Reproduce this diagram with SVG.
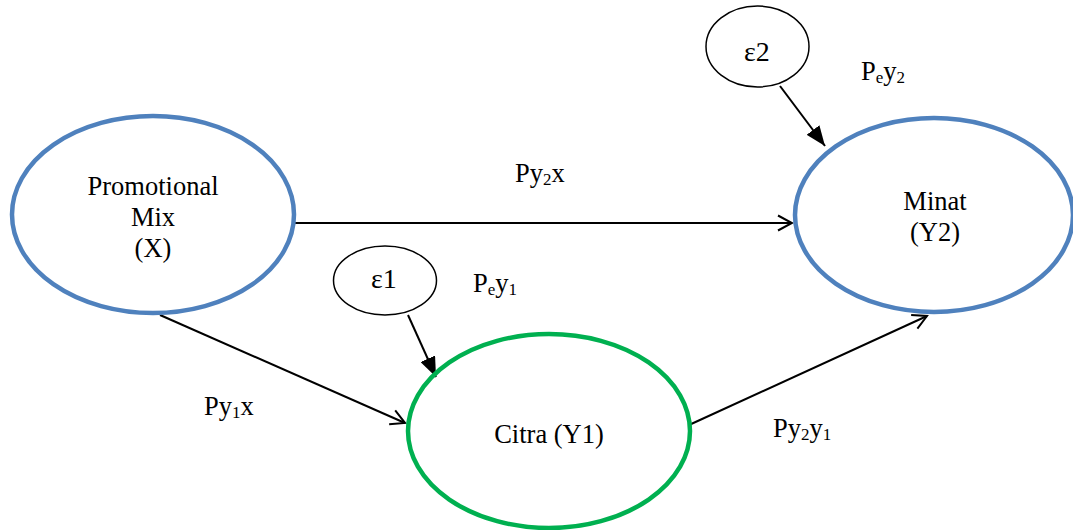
<svg xmlns="http://www.w3.org/2000/svg" width="1073" height="530" viewBox="0 0 1073 530" font-family="'Liberation Serif', 'Times New Roman', 'DejaVu Serif', serif">
<defs>
<style>
text{font-family:'Liberation Serif','Times New Roman','DejaVu Serif',serif;font-size:26.5px;fill:#000;}
.lbl{text-anchor:middle;}
.sub{font-size:17px;}
.eps{font-size:28px;}
.blue{fill:none;stroke:#4F81BD;stroke-width:4.5;}
.green{fill:none;stroke:#00B050;stroke-width:4.5;}
.err{fill:#fff;stroke:#000;stroke-width:1.5;}
.c{fill:none;stroke:#000;stroke-width:2;}
</style>
<marker id="open" markerUnits="userSpaceOnUse" viewBox="0 0 18 18" markerWidth="18" markerHeight="18" refX="16" refY="9" orient="auto">
<path d="M2,1.5 L16,9 L2,16.5" fill="none" stroke="#000" stroke-width="2"/>
</marker>
<marker id="fill" markerUnits="userSpaceOnUse" viewBox="0 0 20 16" markerWidth="20" markerHeight="16" refX="20" refY="8" orient="auto">
<path d="M0,0 L20,8 L0,16 z" fill="#000"/>
</marker>
</defs>
<rect width="1073" height="530" fill="#fff"/>
<g id="connectors">
<line class="c" x1="294" y1="223" x2="792" y2="223" marker-end="url(#open)"/>
<line class="c" x1="160" y1="315" x2="405" y2="423" marker-end="url(#open)"/>
<line class="c" x1="689" y1="425" x2="927" y2="316" marker-end="url(#open)"/>
<line class="c" x1="408" y1="315" x2="436" y2="377" marker-end="url(#fill)"/>
<line class="c" x1="780" y1="86" x2="825" y2="146" marker-end="url(#fill)"/>
</g>
<g id="node-x">
<ellipse class="blue" cx="153" cy="214.5" rx="141" ry="98.5"/>
<text class="lbl" x="153" y="195">Promotional</text>
<text class="lbl" x="153" y="226">Mix</text>
<text class="lbl" x="153" y="257">(X)</text>
</g>
<g id="node-y1">
<ellipse class="green" cx="549" cy="431" rx="141" ry="97"/>
<text class="lbl" x="549" y="443">Citra (Y1)</text>
</g>
<g id="node-y2">
<ellipse class="blue" cx="934" cy="215" rx="139" ry="97"/>
<text class="lbl" x="935" y="210">Minat</text>
<text class="lbl" x="935" y="241">(Y2)</text>
</g>
<g id="node-e1">
<ellipse class="err" cx="385" cy="280.5" rx="51.5" ry="34.5"/>
<text class="lbl eps" x="384" y="288">ε1</text>
</g>
<g id="node-e2">
<ellipse class="err" cx="757.5" cy="46.5" rx="51.5" ry="40.5"/>
<text class="lbl eps" x="757" y="61">ε2</text>
</g>
<g id="labels">
<text x="861" y="80">P<tspan class="sub" dy="3">e</tspan><tspan dy="-3">y</tspan><tspan class="sub" dy="3">2</tspan></text>
<text x="473" y="292">P<tspan class="sub" dy="3">e</tspan><tspan dy="-3">y</tspan><tspan class="sub" dy="3">1</tspan></text>
<text x="515" y="182">Py<tspan class="sub" dy="3">2</tspan><tspan dy="-3">x</tspan></text>
<text x="204" y="415">Py<tspan class="sub" dy="3">1</tspan><tspan dy="-3">x</tspan></text>
<text x="773" y="437">Py<tspan class="sub" dy="3">2</tspan><tspan dy="-3">y</tspan><tspan class="sub" dy="3">1</tspan></text>
</g>
</svg>
